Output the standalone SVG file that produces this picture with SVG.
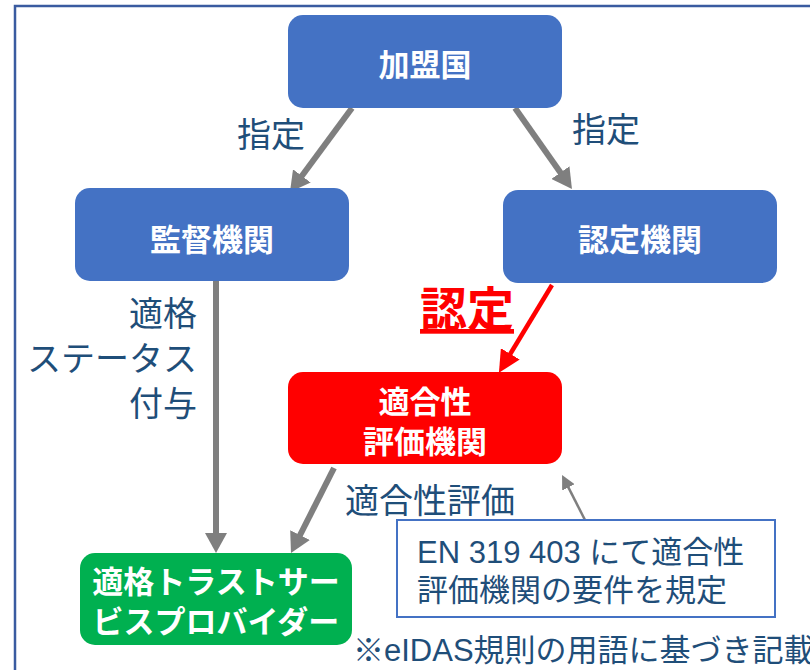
<svg xmlns="http://www.w3.org/2000/svg" width="810" height="670" viewBox="0 0 810 670">
<style>
.frame{fill:none;stroke:#3A5BA0;stroke-width:2.5}
.nb{fill:#4472C4}
.nt{font-family:"Noto Sans CJK JP","Noto Sans",sans-serif;font-weight:bold;font-size:31px;fill:#fff;text-anchor:middle}
.lb{font-family:"Noto Sans CJK JP","Noto Sans",sans-serif;font-size:34px;fill:#1F4E79}
.note{font-family:"Liberation Sans","Noto Sans CJK JP",sans-serif;font-size:31px;fill:#1F4E79}
.ga{stroke:#7F7F7F;stroke-width:6;fill:none}
</style>
<defs>
<marker id="hg" markerUnits="userSpaceOnUse" markerWidth="20" markerHeight="22" refX="6" refY="11" orient="auto"><path d="M0,0 L20,11 L0,22 z" fill="#7F7F7F"/></marker>
<marker id="hr" markerUnits="userSpaceOnUse" markerWidth="22" markerHeight="22" refX="6" refY="11" orient="auto"><path d="M0,0 L22,11 L0,22 z" fill="#FF0000"/></marker>
<marker id="hs" markerUnits="userSpaceOnUse" markerWidth="14" markerHeight="14" refX="4" refY="7" orient="auto"><path d="M0,0 L14,7 L0,14 z" fill="#7F7F7F"/></marker>
</defs>
<rect class="frame" x="15" y="6" width="820" height="700"/>
<g id="connectors">
<line class="ga" x1="352" y1="108" x2="298.3" y2="180.7" marker-end="url(#hg)"/>
<line class="ga" x1="515" y1="108" x2="563.9" y2="177.5" marker-end="url(#hg)"/>
<line class="ga" x1="216" y1="281" x2="216" y2="539" marker-end="url(#hg)"/>
<line class="ga" x1="334" y1="468" x2="297.3" y2="540.5" marker-end="url(#hg)"/>
<line x1="552" y1="285" x2="507.2" y2="359" stroke="#FF0000" stroke-width="4.5" marker-end="url(#hr)"/>
<line x1="585" y1="520" x2="566.6" y2="483.9" stroke="#7F7F7F" stroke-width="2.5" marker-end="url(#hs)"/>
<text class="lb" x="237" y="147">指定</text>
<text class="lb" x="572" y="142">指定</text>
<text x="420" y="326" font-family="'Noto Sans CJK JP',sans-serif" font-weight="bold" font-size="47" fill="#FF0000" text-decoration="underline">認定</text>
<text class="lb" text-anchor="end" x="197" y="326">適格</text>
<text class="lb" text-anchor="end" x="197" y="371">ステータス</text>
<text class="lb" text-anchor="end" x="197" y="416">付与</text>
<text class="lb" x="345" y="513" font-size="36">適合性評価</text>
</g>
<g id="kameikoku">
<rect class="nb" x="288" y="15" width="274" height="93" rx="15"/>
<text class="nt" x="425" y="76">加盟国</text>
</g>
<g id="kantoku">
<rect class="nb" x="75" y="188" width="274" height="93" rx="15"/>
<text class="nt" x="212" y="251">監督機関</text>
</g>
<g id="nintei">
<rect class="nb" x="503" y="190" width="274" height="93" rx="15"/>
<text class="nt" x="640" y="251">認定機関</text>
</g>
<g id="cab">
<rect x="288" y="372" width="274" height="92" rx="15" fill="#FF0000"/>
<text class="nt" x="425" y="413" font-size="30">適合性</text>
<text class="nt" x="425" y="453" font-size="30">評価機関</text>
</g>
<g id="qtsp">
<rect x="80" y="553" width="272" height="92" rx="15" fill="#00B050"/>
<text class="nt" x="216" y="593" font-size="27.5">適格トラストサー</text>
<text class="nt" x="216" y="633" font-size="27.5">ビスプロバイダー</text>
</g>
<g id="note">
<rect x="397" y="520" width="378" height="97" fill="#fff" stroke="#4472C4" stroke-width="2"/>
<text class="note" x="417" y="563">EN 319 403 にて適合性</text>
<text class="note" x="417" y="601">評価機関の要件を規定</text>
</g>
<g id="footnote">
<text class="note" x="353" y="661" font-size="30">※eIDAS規則の用語に基づき記載</text>
</g>
</svg>
